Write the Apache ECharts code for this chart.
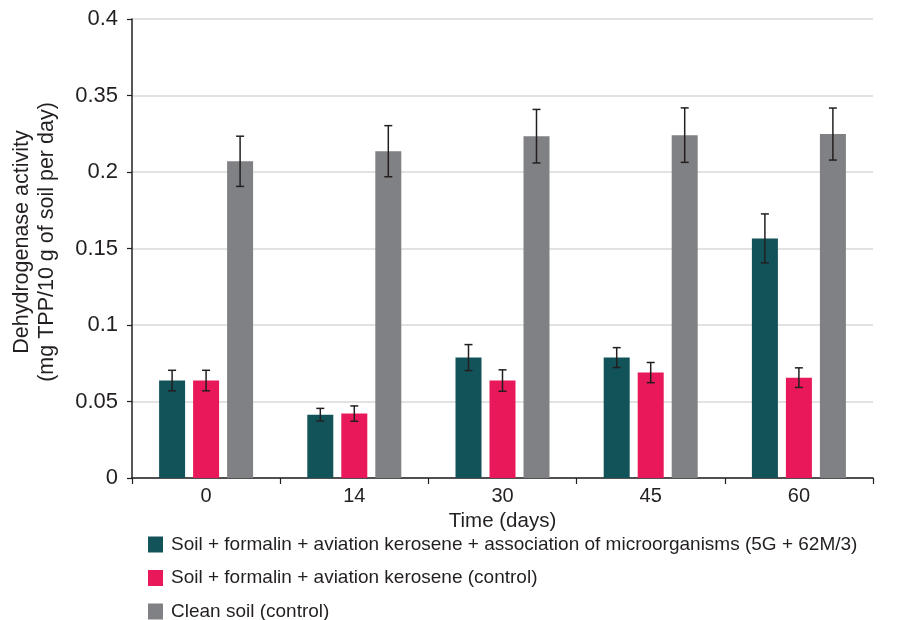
<!DOCTYPE html>
<html>
<head>
<meta charset="utf-8">
<script src="https://cdn.jsdelivr.net/npm/echarts@6/dist/echarts.min.js"></script>
<style>html,body{margin:0;padding:0;background:#fff;}#c{width:897px;height:620px;}</style>
</head>
<body>
<div id="c"></div>
<script>
var categories = ['0', '14', '30', '45', '60'];
var seriesNames = [
  'Soil + formalin + aviation kerosene + association of microorganisms (5G + 62M/3)',
  'Soil + formalin + aviation kerosene (control)',
  'Clean soil (control)'
];
var treated = [0.0637, 0.0414, 0.0787, 0.0787, 0.1566];
var treatedErr = [0.0067, 0.0041, 0.0085, 0.0065, 0.0160];
var control = [0.0637, 0.0421, 0.0637, 0.0689, 0.0656];
var controlErr = [0.0067, 0.0050, 0.0070, 0.0066, 0.0064];
var clean = [0.2070, 0.2136, 0.2234, 0.2241, 0.2248];
var cleanErr = [0.0164, 0.0167, 0.0175, 0.0178, 0.0170];
var yTickLabels = ['0', '0.05', '0.1', '0.15', '0.2', '0.35', '0.4'];

var colors = ['#12535a', '#e8185a', '#808184'];
var BAR_W = 26, GAP = 8;
var FONT = '"Liberation Sans", Arial, Helvetica, sans-serif';
var TXT = '#231f20';

function errSeries(vals, errs, idx) {
  var offset = (idx - 1) * (BAR_W + GAP);
  return {
    type: 'custom',
    name: seriesNames[idx] + ' err',
    z: 10,
    silent: true,
    data: vals.map(function (v, i) { return [i, v, errs[i]]; }),
    renderItem: function (params, api) {
      var c = api.value(0), v = api.value(1), e = api.value(2);
      var hi = api.coord([c, v + e]);
      var lo = api.coord([c, v - e]);
      var x = hi[0] + offset;
      var cap = 4;
      var st = { stroke: '#231f20', lineWidth: 1.5 };
      return {
        type: 'group',
        children: [
          { type: 'line', shape: { x1: x, y1: hi[1], x2: x, y2: lo[1] }, style: st },
          { type: 'line', shape: { x1: x - cap, y1: hi[1], x2: x + cap, y2: hi[1] }, style: st },
          { type: 'line', shape: { x1: x - cap, y1: lo[1], x2: x + cap, y2: lo[1] }, style: st }
        ]
      };
    }
  };
}

var chart = echarts.init(document.getElementById('c'), null, { renderer: 'canvas' });
chart.setOption({
  animation: false,
  textStyle: { fontFamily: FONT },
  grid: { left: 132, right: 24, top: 19, bottom: 142, containLabel: false },
  legend: {
    orient: 'vertical',
    left: 143,
    top: 530,
    width: 740,
    height: 100,
    itemWidth: 15,
    itemHeight: 16,
    itemGap: 14.5,
    icon: 'rect',
    data: seriesNames,
    textStyle: { fontFamily: FONT, fontSize: 19, color: TXT, padding: [0, 0, 0, 3] }
  },
  xAxis: {
    type: 'category',
    data: categories,
    name: 'Time (days)',
    nameLocation: 'middle',
    nameGap: 31,
    nameTextStyle: { fontFamily: FONT, fontSize: 20.5, color: TXT },
    axisLine: { lineStyle: { color: '#231f20', width: 1.5 } },
    axisTick: { show: true, length: 6, lineStyle: { color: '#231f20', width: 1.2 } },
    axisLabel: { fontFamily: FONT, fontSize: 20, color: TXT, margin: 8 },
    splitLine: { show: false }
  },
  yAxis: {
    type: 'value',
    min: 0,
    max: 0.3,
    interval: 0.05,
    axisLine: { show: true, lineStyle: { color: '#231f20', width: 1.5 } },
    axisTick: { show: true, length: 5, lineStyle: { color: '#231f20', width: 1.2 } },
    axisLabel: {
      fontFamily: FONT, fontSize: 22, color: TXT, margin: 14,
      formatter: function (v) { return yTickLabels[Math.round(v / 0.05)]; }
    },
    splitLine: { show: true, lineStyle: { color: '#d9d9d9', width: 1.5 } }
  },
  graphic: [{
    type: 'text',
    x: 35,
    y: 242,
    rotation: Math.PI / 2,
    style: {
      text: 'Dehydrogenase activity\n(mg TPP/10 g of soil per day)',
      font: '21.5px ' + FONT,
      fill: TXT,
      textAlign: 'center',
      textVerticalAlign: 'middle',
      lineHeight: 25
    }
  }],
  series: [
    { type: 'bar', name: seriesNames[0], data: treated, barWidth: BAR_W, barGap: (GAP / BAR_W * 100) + '%', itemStyle: { color: colors[0] } },
    { type: 'bar', name: seriesNames[1], data: control, barWidth: BAR_W, barGap: (GAP / BAR_W * 100) + '%', itemStyle: { color: colors[1] } },
    { type: 'bar', name: seriesNames[2], data: clean, barWidth: BAR_W, barGap: (GAP / BAR_W * 100) + '%', itemStyle: { color: colors[2] } },
    errSeries(treated, treatedErr, 0),
    errSeries(control, controlErr, 1),
    errSeries(clean, cleanErr, 2)
  ]
});
</script>
</body>
</html>
